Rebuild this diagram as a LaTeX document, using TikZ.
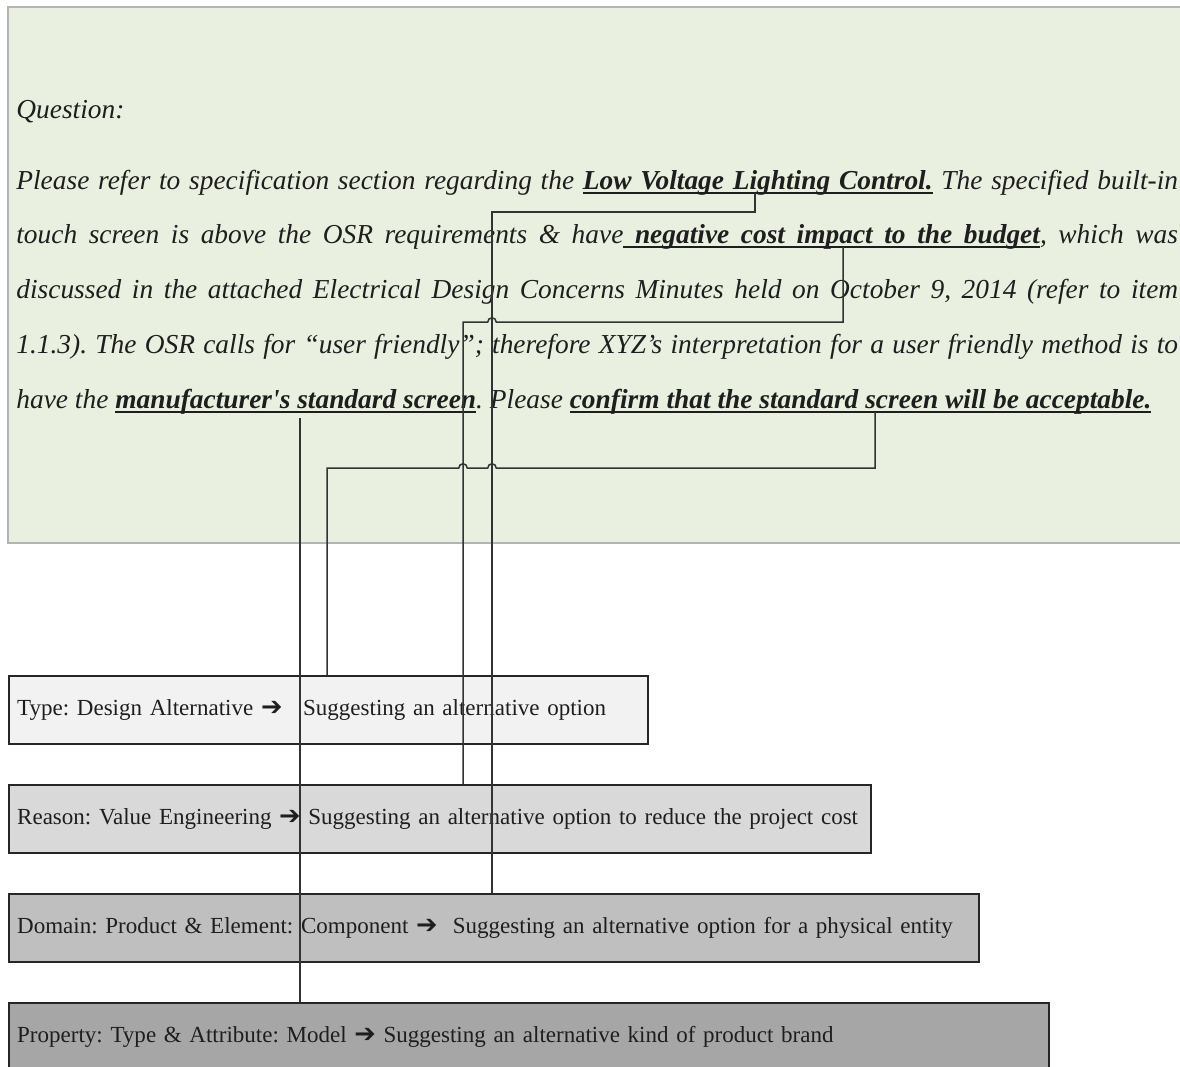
\documentclass[tikz,border=0pt]{standalone}
\usepackage{fontspec}
\setmainfont{Liberation Serif}[Ligatures=TeXOff]
\newfontfamily\arrowfont{DejaVu Sans}
\usetikzlibrary{calc}

\definecolor{panelfill}{HTML}{EAF0DF}
\definecolor{panelline}{HTML}{B4B4B4}
\definecolor{inktext}{HTML}{1E1E1E}
\definecolor{typefill}{HTML}{F2F2F2}
\definecolor{reasonfill}{HTML}{D9D9D9}
\definecolor{domainfill}{HTML}{BFBFBF}
\definecolor{propfill}{HTML}{A6A6A6}

\newcommand{\rarr}{{\arrowfont\fontsize{14.6pt}{16pt}\selectfont ➔}}
\newcommand{\qfont}{\fontsize{15.6pt}{31.18pt}\selectfont\itshape\frenchspacing}
% underlined word and underlined (stretchable) space
\newcommand{\uw}[1]{\setbox0=\hbox{#1}\rlap{\vrule height -1.5pt depth 2.65pt width \wd0}\box0}
\newcommand{\us}{\leaders\hrule height -1.5pt depth 2.65pt\hskip\fontdimen2\font plus \fontdimen3\font minus \fontdimen4\font\relax}

\tikzset{
  catbox/.style={rectangle, draw=black!85, line width=1.35pt, anchor=north west,
    inner xsep=0.16cm, inner ysep=0pt, minimum height=1.36cm, align=left,
    text=inktext, font=\fontsize{13.1pt}{16pt}\selectfont\frenchspacing},
  conn/.style={draw=black!80, line width=0.85pt},
  hop/.style={start angle=0, end angle=180, radius=0.085cm}
}

\begin{document}
\begin{tikzpicture}[x=0.02cm, y=-0.02cm]
\useasboundingbox (0,0) rectangle (1180,1066);

% question panel
\path[fill=panelfill, draw=panelline, line width=1.6pt] (8,7) rectangle (1215,543);

\node[anchor=base west, inner sep=0, text=inktext, font=\qfont] (qhead) at (16,118) {Question:};
\node[anchor=base west, inner sep=0, text=inktext] (qbody) at (16,189) {%
  \parbox[t]{23.24cm}{\qfont\tolerance=10000\hbadness=10000
  Please refer to specification section regarding the
  \textbf{\uw{Low}\us\uw{Voltage}\us\uw{Lighting}\us\uw{Control.}}
  The specified built-in\linebreak
  touch screen is above the OSR requirements \& have\textbf{\us\uw{negative}\us\uw{cost}\us\uw{impact}\us\uw{to}\us\uw{the}\us\uw{budget}},
  which was\linebreak
  discussed in the attached Electrical Design Concerns Minutes held on October 9, 2014 (refer to item\linebreak
  1.1.3). The OSR calls for “user friendly”; therefore XYZ’s interpretation for a user friendly method is to\linebreak
  have the \textbf{\uw{manufacturer's}\us\uw{standard}\us\uw{screen}}.
  Please \textbf{\uw{confirm}\us\uw{that}\us\uw{the}\us\uw{standard}\us\uw{screen}\us\uw{will}\us\uw{be}\us\uw{acceptable.}}}};

% category boxes
\node[catbox, fill=typefill, text width=623*0.02cm] (typ) at (8,675)
  {\mbox{Type: Design Alternative \rarr\ \ \hspace{3pt}Suggesting an alternative option}};
\node[catbox, fill=reasonfill, text width=846*0.02cm] (rsn) at (8,784)
  {\mbox{Reason: Value Engineering \rarr\ Suggesting an alternative option to reduce the project cost}};
\node[catbox, fill=domainfill, text width=954*0.02cm] (dom) at (8,893)
  {\mbox{Domain: Product \& Element: Component \rarr\ \ Suggesting an alternative option for a physical entity}};
\node[catbox, fill=propfill, text width=1024*0.02cm] (prp) at (8,1002)
  {\mbox{Property: Type \& Attribute: Model \rarr\ Suggesting an alternative kind of product brand}};

% anchor points under the underlined phrases
\coordinate (lvc) at (755,193);
\coordinate (nci) at (843,247);
\coordinate (mss) at (300,418);
\coordinate (cfm) at (875,412);

% routing lanes
\coordinate (laneA) at (492,212);
\coordinate (laneB) at (463,322);
\coordinate (laneC) at (327,468);

% connectors
\draw[conn] (lvc) |- (laneA) -- (laneA |- dom.north);
\draw[conn] (nci) -- (nci |- laneB)
  -- ($(laneA |- laneB)+(4.25,0)$) arc[hop]
  -- (laneB) -- (laneB |- rsn.north);
\draw[conn] (mss) -- (mss |- prp.north);
\draw[conn] (cfm) -- (cfm |- laneC)
  -- ($(laneA |- laneC)+(4.25,0)$) arc[hop]
  -- ($(laneB |- laneC)+(4.25,0)$) arc[hop]
  -- (laneC) -- (laneC |- typ.north);
\end{tikzpicture}
\end{document}
